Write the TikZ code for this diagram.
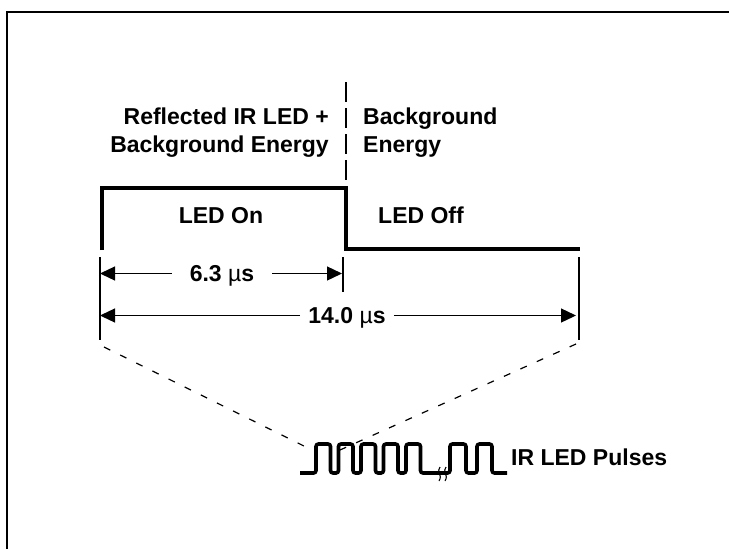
\documentclass[tikz,border=0pt]{standalone}
\usepackage{fontspec}
\setmainfont{Liberation Sans}
\usetikzlibrary{arrows.meta}
\begin{document}
\begin{tikzpicture}[x=1pt,y=-1pt,
  lbl/.style={inner sep=0pt,font=\fontsize{23}{28}\selectfont\bfseries},
  dimlbl/.style={inner sep=0pt,text height=16.5pt,text depth=0pt,font=\fontsize{23}{28}\selectfont\bfseries},
  sig/.style={line width=3.5pt},
  extline/.style={line width=1.3pt},
  dimarrow/.style={line width=1.3pt,-{Triangle[length=15pt,width=14pt]}},
  zoomline/.style={line width=1.2pt,dash pattern=on 7pt off 11pt},
  divline/.style={line width=1.4pt,dash pattern=on 20pt off 6pt},
  pulse/.style={line width=3.6pt,rounded corners=2.5pt},
]
\useasboundingbox (0,0) rectangle (730,549);
% frame
\draw[line width=2pt] (7,549) -- (7,12) -- (729,12);
% divider
\coordinate (dtop) at (346,82);
\coordinate (dbot) at (346,180);
\draw[divline] (dtop) -- (dbot);
% labels
\node[lbl,anchor=base east] (l1) at (329,124) {Reflected IR LED +};
\node[lbl,anchor=base east] (l2) at (329,152) {Background Energy};
\node[lbl,anchor=base west] (r1) at (363,124) {Background};
\node[lbl,anchor=base west] (r2) at (363,152) {Energy};
% signal
\coordinate (s0) at (102,250);
\coordinate (s1) at (102,188);
\coordinate (s2) at (346,188);
\coordinate (s3) at (346,249);
\coordinate (s4) at (580,249);
\draw[sig] (s0) -- (s1) -- (s2) -- (s3) -- (s4);
\node[lbl,anchor=base] (on) at (221,223) {LED On};
\node[lbl,anchor=base west] (off) at (378,223) {LED Off};
% extension lines
\coordinate (eLt) at (100,257); \coordinate (eLb) at (100,340);
\coordinate (eMt) at (343,257); \coordinate (eMb) at (343,292);
\coordinate (eRt) at (579,257); \coordinate (eRb) at (579,340);
\draw[extline] (eLt) -- (eLb);
\draw[extline] (eMt) -- (eMb);
\draw[extline] (eRt) -- (eRb);
% dimensions
\node[dimlbl,inner xsep=18pt] (d1) at (222,273.5) {6.3 {\mdseries µ}s};
\node[dimlbl,inner xsep=8pt] (d2) at (347,315.5) {14.0 {\mdseries µ}s};
\draw[dimarrow] (d1.west) -- (d1.west -| eLt);
\draw[dimarrow] (d1.east) -- ([xshift=-1pt]d1.east -| eMt);
\draw[dimarrow] (d2.west) -- (d2.west -| eLt);
\draw[dimarrow] (d2.east) -- ([xshift=-3pt]d2.east -| eRt);
% zoom lines
\coordinate (zL1) at (104,347); \coordinate (zL2) at (312,450);
\coordinate (zR1) at (576,344); \coordinate (zR2) at (340,450);
\draw[zoomline] (zL1) -- (zL2);
\draw[zoomline] (zR1) -- (zR2);
% pulses
\draw[pulse] (300,473)
  -- (316,473) -- (316,444) -- (330.5,444) -- (330.5,473)
  -- (338.5,473) -- (338.5,444) -- (353,444) -- (353,473)
  -- (361,473) -- (361,444) -- (375.5,444) -- (375.5,473)
  -- (383.5,473) -- (383.5,444) -- (398,444) -- (398,473)
  -- (406,473) -- (406,444) -- (420.5,444) -- (420.5,473)
  -- (450,473) -- (450,444) -- (466,444) -- (466,473)
  -- (477,473) -- (477,444) -- (492,444) -- (492,473)
  -- (507,473);
% break marks
\draw[line width=1.1pt] (440,467) .. controls (436,471) and (443,475) .. (439,481);
\draw[line width=1.1pt] (446,467) .. controls (442,471) and (449,475) .. (445,481);
\node[lbl,anchor=base west] (pl) at (511,465) {IR LED Pulses};
\end{tikzpicture}
\end{document}
